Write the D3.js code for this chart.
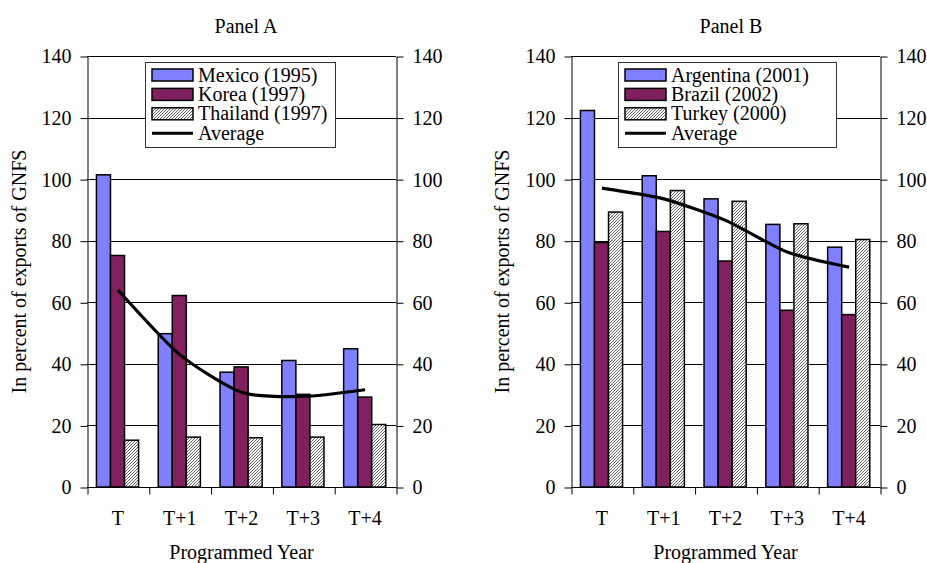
<!DOCTYPE html>
<html>
<head>
<meta charset="utf-8">
<script src="https://cdn.jsdelivr.net/npm/d3@7"></script>
</head>
<body style="margin:0;background:#fff">
<svg id="chart" width="927" height="563" style="display:block"></svg>
<script>
// ---------------- data ----------------
const categories = ["T", "T+1", "T+2", "T+3", "T+4"];
const yTicks = [0, 20, 40, 60, 80, 100, 120, 140];

const seriesNamesA = ["Mexico (1995)", "Korea (1997)", "Thailand (1997)"];
const mexico   = [101.4, 49.8, 37.3, 41.1, 44.9];
const korea    = [75.2, 62.2, 39.0, 30.1, 29.2];
const thailand = [15.2, 16.2, 16.0, 16.2, 20.3];
const averageA = [64.0, 43.0, 30.8, 29.4, 31.6];

const seriesNamesB = ["Argentina (2001)", "Brazil (2002)", "Turkey (2000)"];
const argentina = [122.3, 101.1, 93.6, 85.3, 77.9];
const brazil    = [79.4, 83.0, 73.4, 57.4, 56.0];
const turkey    = [89.3, 96.3, 92.8, 85.5, 80.4];
const averageB  = [97.1, 93.6, 86.6, 76.3, 71.4];

const averageLabel = "Average";
const yTitle = "In percent of exports of GNFS";
const xTitle = "Programmed Year";
// --------------------------------------

const FONT = "Liberation Serif";
const FS = 20;
const svg = d3.select("#chart");
svg.append("rect").attr("width", 927).attr("height", 563).attr("fill", "#fff");
const defs = svg.append("defs");
const pat = defs.append("pattern")
  .attr("id", "hatch").attr("patternUnits", "userSpaceOnUse")
  .attr("width", 3).attr("height", 3);
pat.append("rect").attr("width", 3).attr("height", 3).attr("fill", "#fff");
pat.append("path").attr("d", "M-1,1 L1,-1 M0,3 L3,0 M2,4 L4,2")
  .attr("stroke", "#555").attr("stroke-width", 0.9);

const fills = ["#8080FF", "#80205E", "url(#hatch)"];

function styleText(sel) {
  return sel.style("font-family", FONT).style("font-size", FS + "px").attr("fill", "#000");
}

function drawPanel(cfg) {
  const { left, right, title, titleX, yTitleX, names, values, avg, legend } = cfg;
  const top = 56, bottom = 487;
  const g = svg.append("g");

  const y = d3.scaleLinear().domain([0, 140]).range([bottom, top]);
  const x = d3.scaleBand().domain(categories).range([left, right]).padding(0);
  const xs = d3.scaleBand().domain(names).range([0, x.bandwidth()])
    .paddingInner(0).paddingOuter(0.7).align(0.48);
  const xb = d3.scaleLinear().domain([0, categories.length]).range([left, right]);

  // gridlines
  g.append("g").selectAll("line").data(yTicks).join("line")
    .attr("x1", left).attr("x2", right)
    .attr("y1", d => Math.round(y(d)) + 0.5).attr("y2", d => Math.round(y(d)) + 0.5)
    .attr("stroke", "#000").attr("stroke-width", 1);

  // axes
  const la = g.append("g").attr("transform", `translate(${left + 0.5},0.5)`)
    .call(d3.axisLeft(y).tickValues(yTicks).tickSize(7).tickSizeOuter(0).tickPadding(9));
  const ra = g.append("g").attr("transform", `translate(${right + 0.5},0.5)`)
    .call(d3.axisRight(y).tickValues(yTicks).tickSize(7).tickSizeOuter(0).tickPadding(9));
  [la, ra].forEach(a => {
    styleText(a.selectAll("text"));
    a.selectAll("line,path").attr("stroke", "#000");
  });

  const ba = g.append("g").attr("transform", `translate(0.5,${bottom + 0.5})`)
    .call(d3.axisBottom(xb).tickValues(d3.range(categories.length + 1))
      .tickFormat("").tickSize(7).tickSizeOuter(0));
  ba.select(".domain").remove();
  ba.selectAll("line").attr("stroke", "#000");

  const ca = g.append("g").attr("transform", `translate(0,${bottom})`)
    .call(d3.axisBottom(x).tickSize(0).tickPadding(24));
  ca.select(".domain").remove();
  styleText(ca.selectAll("text"));

  // legend
  const lg = g.append("g");
  lg.append("rect").attr("x", legend.x + 0.5).attr("y", legend.y + 0.5)
    .attr("width", legend.w).attr("height", legend.h)
    .attr("fill", "#fff").attr("stroke", "#333").attr("stroke-width", 1);
  const rowY = i => legend.y + 13 + i * 19.4;
  names.forEach((n, i) => {
    lg.append("rect").attr("x", legend.x + 7).attr("y", rowY(i) - 6)
      .attr("width", 41).attr("height", 12)
      .attr("fill", fills[i]).attr("stroke", "#000").attr("stroke-width", 1.5);
    styleText(lg.append("text").attr("x", legend.x + 53).attr("y", rowY(i) + 6.5)).text(n);
  });
  lg.append("line").attr("x1", legend.x + 7).attr("x2", legend.x + 48)
    .attr("y1", rowY(3)).attr("y2", rowY(3))
    .attr("stroke", "#000").attr("stroke-width", 3);
  styleText(lg.append("text").attr("x", legend.x + 53).attr("y", rowY(3) + 6.5)).text(averageLabel);

  // bars
  names.forEach((n, si) => {
    g.append("g").selectAll("rect").data(values[si]).join("rect")
      .attr("x", (d, i) => x(categories[i]) + xs(n))
      .attr("y", d => y(d))
      .attr("width", xs.bandwidth())
      .attr("height", d => y(0) - y(d))
      .attr("fill", fills[si]).attr("stroke", "#000").attr("stroke-width", 1.5);
  });

  // average line
  const line = d3.line()
    .x((d, i) => x(categories[i]) + x.bandwidth() / 2)
    .y(d => y(d))
    .curve(d3.curveCardinal.tension(0.35));
  g.append("path").datum(avg).attr("d", line)
    .attr("fill", "none").attr("stroke", "#000").attr("stroke-width", 3.2)
    .attr("stroke-linejoin", "round");

  // titles
  styleText(g.append("text").attr("x", titleX).attr("y", 33).attr("text-anchor", "middle")).text(title);
  styleText(g.append("text").attr("transform", `translate(${yTitleX},${(top + bottom) / 2}) rotate(-90)`)
    .attr("text-anchor", "middle")).text(yTitle);
  styleText(g.append("text").attr("x", (left + right) / 2).attr("y", 559).attr("text-anchor", "middle")).text(xTitle);
}

drawPanel({
  left: 87, right: 396, title: "Panel A", titleX: 246, yTitleX: 26,
  names: seriesNamesA, values: [mexico, korea, thailand], avg: averageA,
  legend: { x: 145, y: 62, w: 190, h: 85 }
});
drawPanel({
  left: 571, right: 880, title: "Panel B", titleX: 731, yTitleX: 509,
  names: seriesNamesB, values: [argentina, brazil, turkey], avg: averageB,
  legend: { x: 618, y: 62, w: 218, h: 85 }
});
</script>
</body>
</html>
